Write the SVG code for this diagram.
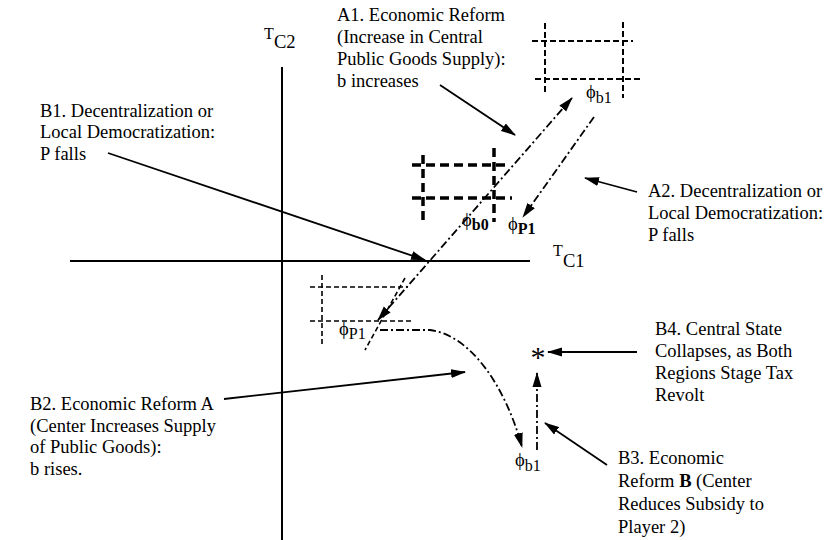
<svg xmlns="http://www.w3.org/2000/svg" width="828" height="540" viewBox="0 0 828 540">
<style>
.t{font-family:"Liberation Serif","Times New Roman","DejaVu Serif",serif;font-size:18.5px;fill:#000}
.ax{stroke:#000;stroke-width:2;fill:none}
.sol{stroke:#000;stroke-width:1.8;fill:none}
.dd{stroke:#000;stroke-width:1.8;fill:none;stroke-dasharray:8 3 2 3}
.thin{stroke:#000;stroke-width:1.6;fill:none;stroke-dasharray:5 3}
.mid{stroke:#000;stroke-width:2;fill:none;stroke-dasharray:6 3}
.thick{stroke:#000;stroke-width:3.5;fill:none;stroke-dasharray:9 5}
.sub{font-size:16px}
.b{font-weight:bold}
</style>
<defs>
<marker id="ah" markerUnits="userSpaceOnUse" markerWidth="15" markerHeight="10" refX="14" refY="5" orient="auto-start-reverse"><path d="M0,0.5 L15,5 L0,9.5 z" fill="#000"/></marker>
</defs>
<rect width="828" height="540" fill="#fff"/>

<g id="axes">
<line class="ax" x1="282" y1="67" x2="282" y2="540"/>
<line class="ax" x1="70" y1="261" x2="530" y2="261"/>
<text class="t" x="264" y="39" style="font-size:16px">T</text><text class="t" x="274" y="48">C2</text>
<text class="t" x="553" y="256" style="font-size:16px">T</text><text class="t" x="563" y="267">C1</text>
</g>

<g id="box-b1-top">
<line class="mid" x1="532" y1="41" x2="633" y2="41"/>
<line class="mid" x1="535" y1="79" x2="640" y2="79"/>
<line class="mid" x1="545" y1="23" x2="545" y2="95"/>
<line class="mid" x1="623" y1="22" x2="623" y2="98"/>
<text class="t" x="586" y="98">&#x3D5;<tspan class="sub" dy="5">b1</tspan></text>
</g>

<g id="box-b0">
<line class="thick" x1="412" y1="165" x2="508" y2="165"/>
<line class="thick" x1="412" y1="198" x2="512" y2="198"/>
<line class="thick" x1="423" y1="155" x2="423" y2="225"/>
<line class="thick" x1="494" y1="148" x2="494" y2="222"/>
<text class="t" x="462" y="226">&#x3D5;<tspan class="sub b" dy="4">b0</tspan></text>
</g>

<g id="label-p1-upper">
<text class="t" x="508" y="230">&#x3D5;<tspan class="sub b" dy="4">P1</tspan></text>
</g>

<g id="box-p1-lower">
<line class="thin" x1="310" y1="287" x2="408" y2="287"/>
<line class="thin" x1="310" y1="321" x2="413" y2="321"/>
<line class="thin" x1="322" y1="275" x2="322" y2="347"/>
<line class="thin" x1="405" y1="278" x2="365" y2="350"/>
<text class="t" x="339" y="335">&#x3D5;<tspan class="sub" dy="4">P1</tspan></text>
</g>

<g id="star">
<text class="t" x="538" y="367" text-anchor="middle" style="font-size:30px">*</text>
</g>

<g id="label-b1-bottom">
<text class="t" x="515" y="466">&#x3D5;<tspan class="sub" dy="5">b1</tspan></text>
</g>

<g id="text-A1">
<text class="t" x="337" y="21">A1. Economic Reform</text>
<text class="t" x="337" y="43">(Increase in Central</text>
<text class="t" x="337" y="65">Public Goods Supply):</text>
<text class="t" x="337" y="87">b increases</text>
</g>

<g id="text-B1">
<text class="t" x="40" y="117">B1. Decentralization or</text>
<text class="t" x="40" y="138">Local Democratization:</text>
<text class="t" x="40" y="160">P falls</text>
</g>

<g id="text-A2">
<text class="t" x="648" y="197">A2. Decentralization or</text>
<text class="t" x="648" y="219">Local Democratization:</text>
<text class="t" x="648" y="241">P falls</text>
</g>

<g id="text-B4">
<text class="t" x="655" y="335">B4. Central State</text>
<text class="t" x="655" y="357">Collapses, as Both</text>
<text class="t" x="655" y="379">Regions Stage Tax</text>
<text class="t" x="655" y="401">Revolt</text>
</g>

<g id="text-B2">
<text class="t" x="30" y="410">B2. Economic Reform A</text>
<text class="t" x="30" y="432">(Center Increases Supply</text>
<text class="t" x="30" y="453">of Public Goods):</text>
<text class="t" x="30" y="475">b rises.</text>
</g>

<g id="text-B3">
<text class="t" x="618" y="464">B3. Economic</text>
<text class="t" x="618" y="487">Reform <tspan class="b">B</tspan> (Center</text>
<text class="t" x="618" y="510">Reduces Subsidy to</text>
<text class="t" x="618" y="533">Player 2)</text>
</g>

<g id="connectors">
<line class="dd" x1="378" y1="320" x2="572" y2="98" marker-start="url(#ah)" marker-end="url(#ah)"/>
<line class="dd" x1="594" y1="117" x2="523" y2="217" marker-end="url(#ah)"/>
<path class="dd" d="M380,330 L430,330 C470,335 505,385 522,447" marker-end="url(#ah)"/>
<line class="dd" x1="537" y1="450" x2="537" y2="373" marker-end="url(#ah)"/>
<line class="sol" x1="440" y1="85" x2="515" y2="135" marker-end="url(#ah)"/>
<line class="sol" x1="637" y1="192" x2="585" y2="178" marker-end="url(#ah)"/>
<line class="sol" x1="108" y1="153" x2="425" y2="260" marker-end="url(#ah)"/>
<line class="sol" x1="224" y1="399" x2="465" y2="372" marker-end="url(#ah)"/>
<line class="sol" x1="607" y1="465" x2="545" y2="423" marker-end="url(#ah)"/>
<line class="sol" x1="637" y1="352" x2="548" y2="352" marker-end="url(#ah)"/>
</g>
</svg>
